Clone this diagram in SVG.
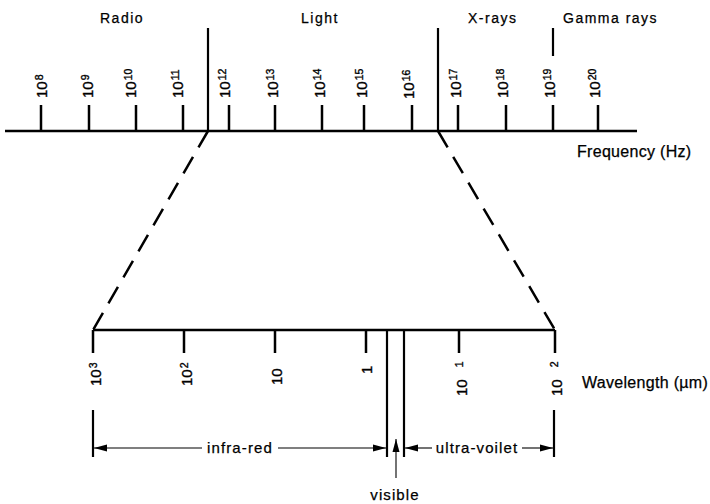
<svg xmlns="http://www.w3.org/2000/svg" width="710" height="504" viewBox="0 0 710 504">
  <style>
    .axis { stroke: #000; stroke-width: 2.5; fill: none; }
    .tick { stroke: #000; stroke-width: 2.5; }
    .div { stroke: #000; stroke-width: 2.2; }
    .dash { stroke: #000; stroke-width: 2.5; stroke-dasharray: 19 11; fill: none; }
    .thin { stroke: #000; stroke-width: 1.1; fill: none; }
    .band { font-family: "Liberation Sans", Arial, sans-serif; font-size: 14px; letter-spacing: 1.5px; fill: #000; stroke: #000; stroke-width: 0.25; }
    .num { font-family: "Liberation Sans", Arial, sans-serif; font-size: 15px; fill: #000; stroke: #000; stroke-width: 0.35; }
    .sup { font-size: 10.5px; }
    .title { font-family: "Liberation Sans", Arial, sans-serif; font-size: 16px; letter-spacing: 0.3px; fill: #000; stroke: #000; stroke-width: 0.25; }
    .lab { font-family: "Liberation Sans", Arial, sans-serif; font-size: 15px; letter-spacing: 1.1px; fill: #000; stroke: #000; stroke-width: 0.25; }
  </style>
  <defs>
    <marker id="head" viewBox="0 0 13 8" refX="13" refY="4" markerWidth="13" markerHeight="8" markerUnits="userSpaceOnUse" orient="auto">
      <path d="M0,0.5 L13,4 L0,7.5 Z" fill="#000"/>
    </marker>
  </defs>

  <rect width="710" height="504" fill="#fff"/>

  <!-- frequency scale -->
  <g id="frequency-axis">
    <line class="axis" x1="5" y1="131" x2="637" y2="131"/>
    <g class="tick">
      <line x1="41" y1="105" x2="41" y2="131"/>
      <line x1="89" y1="105" x2="89" y2="131"/>
      <line x1="136" y1="105" x2="136" y2="131"/>
      <line x1="183" y1="105" x2="183" y2="131"/>
      <line x1="229" y1="105" x2="229" y2="131"/>
      <line x1="275" y1="105" x2="275" y2="131"/>
      <line x1="322" y1="105" x2="322" y2="131"/>
      <line x1="364" y1="105" x2="364" y2="131"/>
      <line x1="412" y1="105" x2="412" y2="131"/>
      <line x1="458" y1="105" x2="458" y2="131"/>
      <line x1="506" y1="105" x2="506" y2="131"/>
      <line x1="553" y1="105" x2="553" y2="131"/>
      <line x1="598" y1="105" x2="598" y2="131"/>
    </g>
    <!-- band dividers -->
    <line class="div" x1="208" y1="28" x2="208" y2="131"/>
    <line class="div" x1="438" y1="28" x2="438" y2="131"/>
    <line class="div" x1="553" y1="28" x2="553" y2="56"/>
    <!-- tick labels, read bottom to top -->
    <g class="num">
      <text transform="translate(47,98) rotate(-90)">10<tspan class="sup" dx="1" dy="-4">8</tspan></text>
      <text transform="translate(93,98) rotate(-90)">10<tspan class="sup" dx="1" dy="-4">9</tspan></text>
      <text transform="translate(136,98) rotate(-90)">10<tspan class="sup" dx="1" dy="-4">10</tspan></text>
      <text transform="translate(183,98) rotate(-90)">10<tspan class="sup" dx="1" dy="-4">11</tspan></text>
      <text transform="translate(230,98) rotate(-90)">10<tspan class="sup" dx="1" dy="-4">12</tspan></text>
      <text transform="translate(278,98) rotate(-90)">10<tspan class="sup" dx="1" dy="-4">13</tspan></text>
      <text transform="translate(325,98) rotate(-90)">10<tspan class="sup" dx="1" dy="-4">14</tspan></text>
      <text transform="translate(367,98) rotate(-90)">10<tspan class="sup" dx="1" dy="-4">15</tspan></text>
      <text transform="translate(414,99) rotate(-90)">10<tspan class="sup" dx="1" dy="-4">16</tspan></text>
      <text transform="translate(461,98) rotate(-90)">10<tspan class="sup" dx="1" dy="-4">17</tspan></text>
      <text transform="translate(508,98) rotate(-90)">10<tspan class="sup" dx="1" dy="-4">18</tspan></text>
      <text transform="translate(555,98) rotate(-90)">10<tspan class="sup" dx="1" dy="-4">19</tspan></text>
      <text transform="translate(600,98) rotate(-90)">10<tspan class="sup" dx="1" dy="-4">20</tspan></text>
    </g>
    <g class="band">
      <text x="100" y="23">Radio</text>
      <text x="301" y="23">Light</text>
      <text x="468" y="23">X-rays</text>
      <text x="563" y="23">Gamma rays</text>
    </g>
    <text class="title" x="577" y="157">Frequency (Hz)</text>
  </g>

  <!-- expansion of the light band -->
  <g id="connectors">
    <line class="dash" x1="208" y1="131" x2="93" y2="330"/>
    <line class="dash" x1="438" y1="131" x2="555" y2="330"/>
  </g>

  <!-- wavelength scale -->
  <g id="wavelength-axis">
    <line class="axis" x1="93" y1="330" x2="555" y2="330" stroke-width="2.2"/>
    <g class="tick">
      <line x1="93" y1="330" x2="93" y2="353"/>
      <line x1="184" y1="330" x2="184" y2="353"/>
      <line x1="275" y1="330" x2="275" y2="353"/>
      <line x1="366" y1="330" x2="366" y2="353"/>
      <line x1="459" y1="330" x2="459" y2="353"/>
      <line x1="555" y1="330" x2="555" y2="353"/>
    </g>
    <!-- visible band edges -->
    <line class="div" x1="387" y1="330" x2="387" y2="457"/>
    <line class="div" x1="404" y1="330" x2="404" y2="457"/>
    <g class="num">
      <text transform="translate(101,386) rotate(-90)">10<tspan class="sup" dx="1" dy="-4">3</tspan></text>
      <text transform="translate(192,386) rotate(-90)">10<tspan class="sup" dx="1" dy="-4">2</tspan></text>
      <text transform="translate(282,385) rotate(-90)">10</text>
      <text transform="translate(372,374) rotate(-90)">1</text>
      <text transform="translate(467,396) rotate(-90)">10<tspan class="sup" dx="12" dy="-4">1</tspan></text>
      <text transform="translate(562,396) rotate(-90)">10<tspan class="sup" dx="12" dy="-4">2</tspan></text>
    </g>
    <text class="title" x="582" y="388">Wavelength (µm)</text>
  </g>

  <!-- region brackets -->
  <g id="infra-red">
    <line class="div" x1="93" y1="410" x2="93" y2="457"/>
    <line class="thin" x1="202" y1="448" x2="94" y2="448" marker-end="url(#head)"/>
    <line class="thin" x1="278" y1="448" x2="386" y2="448" marker-end="url(#head)"/>
    <text class="lab" x="240" y="453" text-anchor="middle">infra-red</text>
  </g>
  <g id="ultra-violet">
    <line class="div" x1="554" y1="410" x2="554" y2="457"/>
    <line class="thin" x1="432" y1="448" x2="405" y2="448" marker-end="url(#head)"/>
    <line class="thin" x1="522" y1="448" x2="553" y2="448" marker-end="url(#head)"/>
    <text class="lab" x="477" y="453" text-anchor="middle">ultra-voilet</text>
  </g>
  <g id="visible">
    <line class="thin" x1="396" y1="478" x2="396" y2="439" marker-end="url(#head)"/>
    <text class="lab" x="395" y="500" text-anchor="middle">visible</text>
  </g>
</svg>
